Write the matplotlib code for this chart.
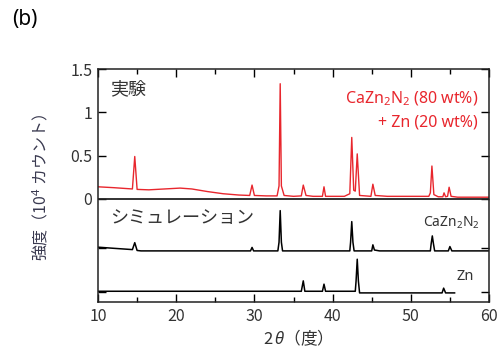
import matplotlib
matplotlib.use("Agg")
import matplotlib.pyplot as plt

plt.rcParams['font.family'] = ['Noto Sans CJK JP', 'DejaVu Sans']
plt.rcParams['mathtext.fontset'] = 'custom'
plt.rcParams['mathtext.rm'] = 'Noto Sans'
plt.rcParams['mathtext.it'] = 'Noto Sans:italic'
plt.rcParams['mathtext.bf'] = 'Noto Sans:bold'

exp_x = [10.0, 12.0, 14.4, 14.7, 15.0, 16.5, 18.5, 20.5, 22.0, 24.0, 26.0, 28.0,
         29.4, 29.7, 30.0, 31.5, 32.9, 33.15, 33.3, 33.45, 33.8, 35.0, 36.0,
         36.25, 36.6, 37.5, 38.7, 38.9, 39.1, 41.5, 42.2, 42.45, 42.7, 42.9,
         43.15, 43.45, 44.9, 45.15, 45.45, 47.0, 52.3, 52.5, 52.7, 52.95, 53.5,
         54.1, 54.25, 54.45, 54.7, 54.9, 55.15, 56.0, 60.0]
exp_y = [0.14, 0.13, 0.115, 0.49, 0.11, 0.105, 0.115, 0.125, 0.115, 0.085, 0.06,
         0.045, 0.04, 0.16, 0.04, 0.035, 0.035, 0.15, 1.33, 0.15, 0.04, 0.03,
         0.035, 0.16, 0.04, 0.03, 0.03, 0.14, 0.03, 0.03, 0.06, 0.71, 0.1, 0.09,
         0.52, 0.04, 0.03, 0.17, 0.04, 0.03, 0.03, 0.07, 0.38, 0.05, 0.025,
         0.025, 0.07, 0.025, 0.03, 0.135, 0.03, 0.02, 0.02]

# simulated CaZn2N2
sim1_x = [10.0, 12.0, 14.4, 14.7, 15.0, 15.5, 29.5, 29.7, 29.9, 33.0, 33.15,
          33.3, 33.45, 33.6, 42.2, 42.3, 42.45, 42.6, 42.75, 45.0, 45.15, 45.35,
          46.0, 52.5, 52.6, 52.75, 52.9, 53.05, 54.8, 55.0, 55.25, 60.0]
sim1_y = [-0.557, -0.57, -0.585, -0.505, -0.595, -0.6, -0.6, -0.56, -0.6, -0.6,
          -0.5, -0.135, -0.5, -0.6, -0.6, -0.5, -0.262, -0.5, -0.6, -0.6, -0.53,
          -0.59, -0.6, -0.6, -0.52, -0.427, -0.52, -0.6, -0.6, -0.55, -0.6, -0.6]

# simulated Zn
sim2_x = [10.0, 36.0, 36.25, 36.45, 38.7, 38.9, 39.1, 42.9, 43.0, 43.15, 43.3,
          43.45, 54.0, 54.2, 54.45, 55.6]
sim2_y = [-1.066, -1.066, -0.946, -1.066, -1.066, -0.984, -1.066, -1.066, -0.95,
          -0.696, -0.95, -1.085, -1.085, -1.03, -1.085, -1.085]

ytick_vals = [1.5, 1.0, 0.5, 0.0, -0.565, -1.07]
ytick_labels = ['1.5', '1', '0.5', '0', '', '']

red = '#e8262d'
txt = '#333333'

fig = plt.figure(figsize=(4.97, 3.49), dpi=100)
ax = fig.add_axes([98 / 497, 1 - 302 / 349, 391 / 497, 233 / 349])

ax.plot(exp_x, exp_y, color=red, lw=1.0)
ax.plot(sim1_x, sim1_y, color='black', lw=1.1)
ax.plot(sim2_x, sim2_y, color='black', lw=1.1)
ax.axhline(0, color='#222222', lw=1.3)

ax.set_xlim(10, 60)
ax.set_ylim(-1.19, 1.5)
ax.set_xticks([10, 20, 30, 40, 50, 60])
ax.set_xticks([15, 25, 35, 45, 55], minor=True)
ax.set_yticks(ytick_vals)
ax.set_yticklabels(ytick_labels)
ax.tick_params(which='both', direction='in', top=True, right=True,
               labelsize=11.5, labelcolor=txt, width=1.0)
ax.tick_params(which='major', length=5.5, pad=4)
ax.tick_params(which='minor', length=3.5)
for s in ax.spines.values():
    s.set_linewidth(1.1)
    s.set_color('#222222')

ax.set_xlabel('2$\\,\\theta$（度）', fontsize=12, color=txt, labelpad=2)
ax.set_ylabel('強度（10$^4$ カウント）', fontsize=11.5, color='#3a3a50')
ax.yaxis.set_label_coords(-0.123, 0.49)

ax.text(11.5, 1.27, '実験', fontsize=13, color=txt, va='center', ha='left')
ax.text(11.5, -0.22, 'シミュレーション', fontsize=13, color=txt, va='center', ha='left')
ax.text(58.6, 1.153, 'CaZn$_2$N$_2$ (80 wt%)', fontsize=11.5, color=red,
        va='center', ha='right', family='Noto Sans')
ax.text(58.6, 0.877, '+ Zn (20 wt%)', fontsize=11.5, color=red,
        va='center', ha='right', family='Noto Sans')
ax.text(58.85, -0.277, 'CaZn$_2$N$_2$', fontsize=10, color=txt,
        va='center', ha='right', family='Noto Sans')
ax.text(58.1, -0.89, 'Zn', fontsize=10.5, color=txt,
        va='center', ha='right', family='Noto Sans')

fig.text(0.024, 0.945, '(b)', fontsize=15, color='black', va='center',
         family='Noto Sans')

fig.savefig('out.png', dpi=100)
